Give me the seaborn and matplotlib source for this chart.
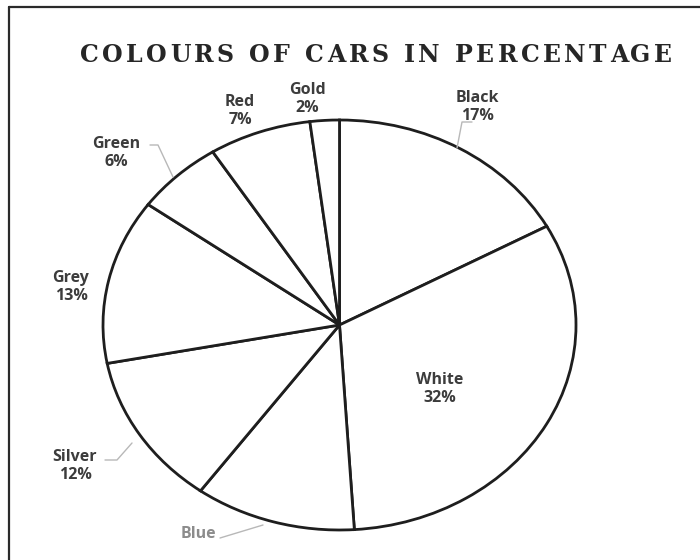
import matplotlib
matplotlib.use("Agg")
import matplotlib.pyplot as plt
import seaborn as sns
from matplotlib.lines import Line2D
from matplotlib.font_manager import FontProperties

sns.set_theme(style="white")
plt.rcParams['font.family'] = ['Open Sans', 'DejaVu Sans']

# ---- data ----
colours = ["Black", "White", "Blue", "Silver", "Grey", "Green", "Red", "Gold"]
percent = [17, 32, 11, 12, 13, 6, 7, 2]
title = "COLOURS OF CARS IN PERCENTAGE"

W, H = 700, 560
fig = plt.figure(figsize=(W / 100, H / 100), dpi=100)
fig.patch.set_facecolor("white")

def fx(x):
    return x / W

def fy(y):
    return 1 - y / H

# pie axes: ellipse spanning x 103..576, y 120..530 (pixels)
left, right, top, bottom = 103, 576, 120, 530
ax = fig.add_axes([fx(left), fy(bottom), (right - left) / W, (bottom - top) / H])
wedges, _ = ax.pie(percent, startangle=90, counterclock=False,
                   colors=["white"] * len(percent),
                   wedgeprops=dict(edgecolor="#1e1e1e", linewidth=2.0, clip_on=False))
ax.set_aspect("auto")
ax.set_xlim(-1, 1)
ax.set_ylim(-1, 1)
ax.axis("off")

# title with letter tracking (spans x 80..672)
fp = FontProperties(family=["DejaVu Serif"], weight="bold", size=17)
renderer = fig.canvas.get_renderer()

def tw(s):
    if not s:
        return 0.0
    return renderer.get_text_width_height_descent(s.replace(" ", "\u00a0"), fp, ismath=False)[0]

t_left, t_right, t_y = 80, 672, 55
full = tw(title)
track = ((t_right - t_left) - full) / (len(title) - 1)
for i, ch in enumerate(title):
    if ch == " ":
        continue
    x = t_left + tw(title[:i]) + track * i
    fig.text(fx(x), fy(t_y), ch, ha="left", va="center", fontproperties=fp,
             color="#262626")

# labels (pixel positions of label centres)
label_pos = {
    "Black": (477, 107),
    "White": (440, 389),
    "Blue": (198, 534),
    "Silver": (75, 466),
    "Grey": (71, 287),
    "Green": (116, 153),
    "Red": (240, 111),
    "Gold": (307, 99),
}
for name, pct in zip(colours, percent):
    x, y = label_pos[name]
    if name == "Blue":
        txt = name
        col = "#8c8c8c"
    else:
        txt = f"{name}\n{pct}%"
        col = "#3c3c3c"
    fig.text(fx(x), fy(y), txt, ha="center", va="center", fontsize=11.5,
             fontweight="bold", color=col, linespacing=1.2,
             family=["Open Sans", "DejaVu Sans"])

# leader lines
leaders = [
    [(457, 148), (462, 122), (472, 122)],      # Black
    [(150, 145), (158, 145), (173, 177)],      # Green
    [(105, 460), (117, 460), (132, 443)],      # Silver
    [(220, 538), (263, 525)],                  # Blue
]
for pts in leaders:
    xs = [fx(p[0]) for p in pts]
    ys = [fy(p[1]) for p in pts]
    fig.add_artist(Line2D(xs, ys, color="#b8b8b8", linewidth=1.0,
                          transform=fig.transFigure))

# outer frame (top and left edges visible)
fig.add_artist(Line2D([fx(9), fx(700)], [fy(7), fy(7)], color="#2a2a2a",
                      linewidth=1.6, transform=fig.transFigure))
fig.add_artist(Line2D([fx(9), fx(9)], [fy(7), fy(560)], color="#2a2a2a",
                      linewidth=1.6, transform=fig.transFigure))

fig.savefig("out.png", dpi=100, facecolor="white")
